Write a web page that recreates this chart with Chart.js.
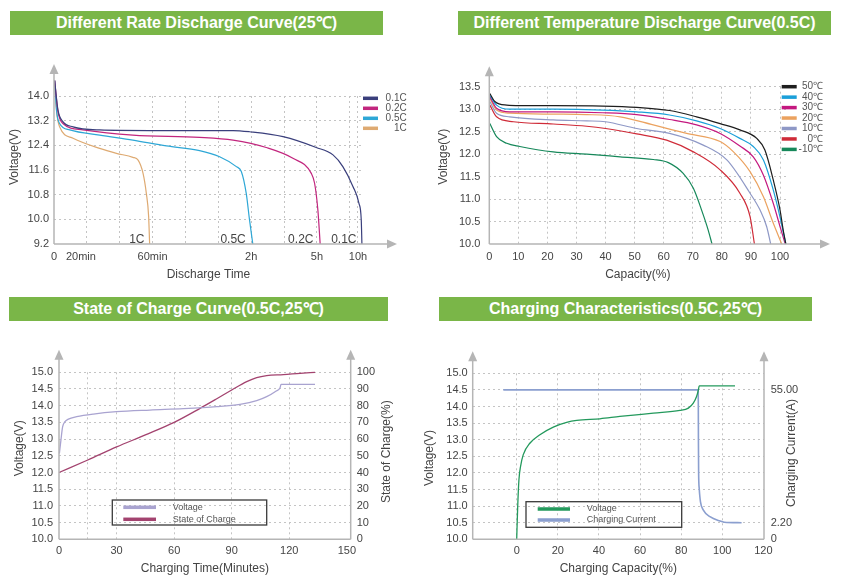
<!DOCTYPE html>
<html>
<head>
<meta charset="utf-8">
<script src="https://cdn.jsdelivr.net/npm/chart.js@4.4.1/dist/chart.umd.min.js"></script>
<style>
body { margin: 0; background: #fff; width: 843px; height: 585px; position: relative; overflow: hidden; font-family: 'Liberation Sans', Arial, sans-serif; }
.banner { position: absolute; height: 24px; line-height: 24px; background: #7ab648; color: #fff; font-weight: bold; font-size: 16px; text-align: center; white-space: nowrap; }
canvas { position: absolute; }
</style>
</head>
<body>
<div class="banner" style="left:10px;top:11px;width:373px">Different Rate Discharge Curve(25℃)</div>
<div class="banner" style="left:458px;top:11px;width:373px">Different Temperature Discharge Curve(0.5C)</div>
<div class="banner" style="left:9px;top:297px;width:379px">State of Charge Curve(0.5C,25℃)</div>
<div class="banner" style="left:439px;top:297px;width:373px">Charging Characteristics(0.5C,25℃)</div>

<canvas id="rateChart" width="420" height="235" style="left:0;top:50px"></canvas>
<canvas id="tempChart" width="423" height="235" style="left:420px;top:50px"></canvas>
<canvas id="socChart" width="420" height="255" style="left:0;top:330px"></canvas>
<canvas id="chargeChart" width="423" height="255" style="left:420px;top:330px"></canvas>

<script>
// --- discharge at different rates (x = position on the uneven time axis) ---
const rateTickPos = [0, 0.82, 3, 6, 8, 9.25];
const rateTickLabels = ['0', '20min', '60min', '2h', '5h', '10h'];
const rateGridPos = [1, 2, 3, 4, 5, 6, 7, 8, 9];
const rateVoltTicks = [9.2, 10.0, 10.8, 11.6, 12.4, 13.2, 14.0];

const rate01X = [0.02, 0.12, 0.27, 0.58, 1.39, 2.91, 5.45, 5.95, 6.97, 7.98, 8.49, 8.79, 9.10, 9.28, 9.35, 9.37];
const rate01V = [14.5, 13.55, 13.17, 13.0, 12.9, 12.88, 12.88, 12.84, 12.68, 12.33, 12.09, 11.71, 11.06, 10.52, 9.98, 9.2];
const rate02X = [0.02, 0.12, 0.27, 0.88, 2.4, 4.43, 5.45, 6.46, 7.27, 7.83, 7.93, 8.03, 8.10];
const rate02V = [14.5, 13.5, 13.11, 12.9, 12.73, 12.66, 12.57, 12.33, 11.98, 11.49, 11.17, 10.3, 9.2];
const rate05X = [0.02, 0.08, 0.17, 0.48, 1.39, 2.4, 3.42, 4.43, 5.04, 5.55, 5.70, 5.85, 5.95, 6.05];
const rate05V = [14.5, 13.5, 13.11, 12.9, 12.73, 12.57, 12.38, 12.23, 12.03, 11.71, 11.55, 10.84, 9.98, 9.2];
const rate1X = [0.02, 0.08, 0.17, 0.58, 1.39, 1.9, 2.4, 2.56, 2.71, 2.81, 2.88, 2.91];
const rate1V = [14.5, 13.5, 13.0, 12.63, 12.3, 12.14, 12.01, 11.92, 11.49, 10.84, 10.09, 9.2];

// --- discharge at different temperatures ---
const tempCapTicks = [0, 10, 20, 30, 40, 50, 60, 70, 80, 90, 100];
const tempVoltTicks = [10.0, 10.5, 11.0, 11.5, 12.0, 12.5, 13.0, 13.5];

const t50X = [0.2, 1.9, 6, 10.5, 22, 39, 50.7, 62, 71.3, 79.4, 86.2, 92, 94.8, 97.7, 100, 101.1, 102];
const t50V = [13.35, 13.17, 13.09, 13.08, 13.08, 13.07, 13.04, 12.97, 12.83, 12.68, 12.54, 12.35, 12.09, 11.42, 10.76, 10.31, 10.0];
const t40X = [0.2, 2.5, 7, 22, 39, 50.7, 62, 71.3, 79.4, 86.2, 90.8, 94.3, 97.7, 100, 102];
const t40V = [13.31, 13.09, 13.0, 13.0, 12.98, 12.94, 12.87, 12.74, 12.57, 12.35, 12.17, 11.87, 11.2, 10.6, 10.0];
const t30X = [0.2, 2.5, 7, 22, 39, 50.7, 62, 71.3, 79.4, 86.2, 90.8, 94.3, 97.7, 100, 101.8];
const t30V = [13.28, 13.02, 12.94, 12.94, 12.92, 12.88, 12.77, 12.65, 12.46, 12.18, 11.94, 11.53, 10.9, 10.39, 10.0];
const t20X = [0.2, 2.5, 7, 22, 33.5, 45, 56.4, 67.9, 79.4, 84, 89.7, 94.3, 97.7, 100.6];
const t20V = [13.24, 12.98, 12.91, 12.89, 12.88, 12.83, 12.65, 12.46, 12.28, 12.05, 11.61, 11.05, 10.46, 10.0];
const t10X = [0.2, 2.5, 7, 22, 33.5, 40, 50.7, 62, 73.6, 81.7, 89.7, 93.1, 95.4, 96.8];
const t10V = [13.17, 12.91, 12.83, 12.76, 12.74, 12.72, 12.57, 12.46, 12.2, 11.87, 11.13, 10.76, 10.39, 10.0];
const t0X = [0.2, 2.5, 8.3, 22, 33.5, 40, 50.7, 61, 70.2, 79.4, 86.2, 89.7, 91.2];
const t0V = [13.09, 12.83, 12.72, 12.67, 12.62, 12.57, 12.45, 12.31, 12.05, 11.65, 11.13, 10.61, 10.0];
const tm10X = [0.2, 2.5, 6, 10.5, 22, 33.5, 45, 56.4, 61.6, 66.7, 70.2, 73, 75.3, 76.6];
const tm10V = [12.68, 12.39, 12.24, 12.17, 12.05, 12.0, 11.94, 11.88, 11.81, 11.57, 11.24, 10.76, 10.31, 10.0];

// --- state of charge curve ---
const socTimeTicks = [0, 15, 30, 60, 90, 120, 150];
const socTimeGrid = [15, 30, 60, 90, 120];
const chargeVoltTicks = [10.0, 10.5, 11.0, 11.5, 12.0, 12.5, 13.0, 13.5, 14.0, 14.5, 15.0];
const socPctTicks = [0, 10, 20, 30, 40, 50, 60, 70, 80, 90, 100];

const socVoltTime = [0.2, 1, 1.9, 3.1, 4.9, 9.2, 17.9, 30, 47.4, 64.8, 82.2, 94.3, 103, 108.2, 112.6, 115.2, 115.7, 133.4];
const socVolt = [12.57, 12.97, 13.37, 13.52, 13.6, 13.67, 13.75, 13.82, 13.87, 13.91, 13.97, 14.04, 14.15, 14.27, 14.42, 14.54, 14.64, 14.64];
const socTime = [0, 15, 30, 45, 60, 73.5, 82, 90, 97.8, 103, 108.2, 116.9, 125.6, 133.4];
const socPct = [40, 47.5, 55.3, 62.5, 70, 78.4, 84, 89.4, 94.4, 96.8, 98, 98.6, 99.4, 100];

// --- charging characteristics ---
const capTicks = [0, 20, 40, 60, 80, 100, 120];
const capGrid = [0, 20, 40, 60, 80, 100];
const currentTickPos = [-4.4, 2.2, 55];
const currentTickLabels = ['0', '2.20', '55.00'];

const chgVoltCap = [0, 0.5, 1.1, 1.9, 3.2, 6.5, 11.3, 17.8, 24.3, 29.2, 40.5, 50.2, 66.5, 79.4, 83.5, 85.9, 87.5, 88.3, 88.8, 106.2];
const chgVolt = [10.0, 11.0, 11.8, 12.2, 12.55, 12.9, 13.15, 13.38, 13.52, 13.58, 13.63, 13.7, 13.8, 13.88, 13.95, 14.1, 14.3, 14.48, 14.62, 14.62];
const chgCurCap = [-6.5, 88.3, 88.35, 88.4, 88.5, 88.8, 89.4, 90.8, 94, 98.9, 101, 109.4];
const chgCur = [55, 55, 48.4, 35.3, 22.2, 15.7, 10.5, 7.2, 4.6, 2.85, 2.4, 2.2];

const FONT = "'Liberation Sans', Arial, sans-serif";
Chart.defaults.font.family = FONT;
Chart.defaults.color = '#444';

function series(label, xs, ys, color, axisId, width) {
    return {
        label: label,
        data: xs.map((x, i) => ({ x: x, y: ys[i] })),
        borderColor: color,
        backgroundColor: color,
        borderWidth: width || 1.2,
        pointRadius: 0,
        cubicInterpolationMode: 'monotone',
        clip: false,
        yAxisID: axisId || 'y'
    };
}

// one axis with fixed size, fixed tick list and optional dotted grid
function axis(o) {
    return {
        type: 'linear',
        position: o.pos,
        min: o.min,
        max: o.max,
        afterFit: s => { if (s.isHorizontal()) s.height = o.size; else s.width = o.size; },
        afterBuildTicks: s => { s.ticks = o.ticks.map(v => ({ value: v })); },
        grid: o.grid ? {
            drawTicks: false,
            lineWidth: 1,
            color: c => o.grid.includes(c.tick.value) ? '#c4c4c4' : 'rgba(0,0,0,0)'
        } : { display: false, drawTicks: false },
        border: { display: false, dash: [2, 3] },
        ticks: {
            padding: o.pad,
            autoSkip: false,
            maxRotation: 0,
            minRotation: 0,
            font: { size: 11 },
            color: '#444',
            callback: o.label
        },
        title: o.title ? {
            display: true,
            text: o.title,
            font: { size: 12 },
            color: '#444',
            padding: { top: 0, bottom: o.titlePad }
        } : { display: false }
    };
}

// axis lines with arrows, vertical titles, in-plot notes and the small legends
const decor = {
    id: 'decor',
    afterDraw(chart, args, o) {
        const ctx = chart.ctx;
        const a = chart.chartArea;
        ctx.save();
        ctx.strokeStyle = '#b5b5b5';
        ctx.fillStyle = '#b5b5b5';
        ctx.lineWidth = 1.5;

        const xEnd = o.xTip || a.right;
        ctx.beginPath();
        ctx.moveTo(a.left, a.bottom);
        ctx.lineTo(xEnd, a.bottom);
        ctx.stroke();
        if (o.xTip) {
            ctx.beginPath();
            ctx.moveTo(xEnd + 2, a.bottom);
            ctx.lineTo(xEnd - 8, a.bottom - 4.5);
            ctx.lineTo(xEnd - 8, a.bottom + 4.5);
            ctx.closePath();
            ctx.fill();
        }
        (o.yTips || []).forEach(t => {
            const x = t.side === 'right' ? a.right : a.left;
            ctx.beginPath();
            ctx.moveTo(x, a.bottom);
            ctx.lineTo(x, t.tip + 6);
            ctx.stroke();
            ctx.beginPath();
            ctx.moveTo(x, t.tip - 2);
            ctx.lineTo(x - 4.5, t.tip + 8);
            ctx.lineTo(x + 4.5, t.tip + 8);
            ctx.closePath();
            ctx.fill();
        });

        ctx.fillStyle = '#444';
        ctx.font = '12px ' + FONT;
        ctx.textAlign = 'center';
        ctx.textBaseline = 'middle';
        (o.titles || []).forEach(t => {
            ctx.save();
            ctx.translate(t.x, t.y);
            ctx.rotate(-Math.PI / 2);
            ctx.fillText(t.text, 0, 0);
            ctx.restore();
        });

        (o.notes || []).forEach(n => {
            ctx.fillText(n.text, chart.scales.x.getPixelForValue(n.x), chart.scales.y.getPixelForValue(n.y));
        });

        const L = o.legend;
        if (L) {
            if (L.box) {
                ctx.strokeStyle = '#3a3a3a';
                ctx.lineWidth = 1.3;
                ctx.strokeRect(L.box[0], L.box[1], L.box[2], L.box[3]);
            }
            ctx.font = L.font + 'px ' + FONT;
            ctx.textAlign = L.align;
            chart.data.datasets.forEach((d, i) => {
                const y = L.y + i * L.step;
                ctx.fillStyle = d.borderColor;
                ctx.fillRect(L.x, y - L.h / 2, L.w, L.h);
                ctx.fillStyle = '#555';
                ctx.fillText(d.label, L.textX, y);
            });
        }
        ctx.restore();
    }
};

function baseOptions(padding, decorOpts, scales) {
    return {
        responsive: false,
        animation: false,
        layout: { padding: padding },
        plugins: { legend: { display: false }, tooltip: { enabled: false }, decor: decorOpts },
        scales: scales
    };
}

new Chart(document.getElementById('rateChart'), {
    type: 'line',
    data: { datasets: [
        series('0.1C', rate01X, rate01V, '#3a3f7c'),
        series('0.2C', rate02X, rate02V, '#c2267e'),
        series('0.5C', rate05X, rate05V, '#2ea7d6'),
        series('1C', rate1X, rate1V, '#deaa72')
    ] },
    options: baseOptions({ left: 0, top: 46, right: 57.1, bottom: 0 }, {
        xTip: 395,
        yTips: [{ side: 'left', tip: 16 }],
        titles: [{ text: 'Voltage(V)', x: 15, y: 107 }],
        notes: [
            { text: '1C', x: 2.52, y: 9.33 },
            { text: '0.5C', x: 5.45, y: 9.33 },
            { text: '0.2C', x: 7.51, y: 9.33 },
            { text: '0.1C', x: 8.82, y: 9.35 }
        ],
        legend: { x: 363, y: 48.3, step: 10, w: 15, h: 3.5, textX: 406.7, align: 'right', font: 10 }
    }, {
        x: axis({ pos: 'bottom', min: 0, max: 9.4, size: 41, pad: 6,
            ticks: rateTickPos.concat(rateGridPos.filter(v => !rateTickPos.includes(v))).sort((p, q) => p - q),
            grid: rateGridPos.concat([9.25]),
            label: v => { const i = rateTickPos.indexOf(v); return i < 0 ? '' : rateTickLabels[i]; },
            title: 'Discharge Time', titlePad: 2.8 }),
        y: axis({ pos: 'left', min: 9.2, max: 14.0, size: 54, pad: 5,
            ticks: rateVoltTicks, grid: rateVoltTicks.slice(1),
            label: v => v.toFixed(1) })
    }),
    plugins: [decor]
});

new Chart(document.getElementById('tempChart'), {
    type: 'line',
    data: { datasets: [
        series('50℃', t50X, t50V, '#1e1e1e'),
        series('40℃', t40X, t40V, '#1b9fd9'),
        series('30℃', t30X, t30V, '#c4187f'),
        series('20℃', t20X, t20V, '#eba25f'),
        series('10℃', t10X, t10V, '#8e98c6'),
        series('0℃', t0X, t0V, '#cf2b38'),
        series('-10℃', tm10X, tm10V, '#16885a')
    ] },
    options: baseOptions({ left: 0, top: 36.7, right: 56.6, bottom: 0 }, {
        xTip: 408,
        yTips: [{ side: 'left', tip: 18.3 }],
        titles: [{ text: 'Voltage(V)', x: 23.3, y: 106.7 }],
        legend: { x: 361.7, y: 36.7, step: 10.45, w: 15, h: 3.5, textX: 403, align: 'right', font: 10 }
    }, {
        x: axis({ pos: 'bottom', min: 0, max: 102.2, size: 41, pad: 6,
            ticks: tempCapTicks, grid: tempCapTicks.slice(1),
            label: v => String(v), title: 'Capacity(%)', titlePad: 3.5 }),
        y: axis({ pos: 'left', min: 10, max: 13.5, size: 69.3, pad: 9,
            ticks: tempVoltTicks, grid: tempVoltTicks.slice(1),
            label: v => v.toFixed(1) })
    }),
    plugins: [decor]
});

new Chart(document.getElementById('socChart'), {
    type: 'line',
    data: { datasets: [
        series('Voltage', socVoltTime, socVolt, '#a9a3d0', 'y', 1.3),
        series('State of Charge', socTime, socPct, '#a3436f', 'y2', 1.3)
    ] },
    options: baseOptions({ left: 0, top: 42.3, right: 0, bottom: 0 }, {
        yTips: [{ side: 'left', tip: 21.7 }, { side: 'right', tip: 21.7 }],
        titles: [
            { text: 'Voltage(V)', x: 20, y: 118.3 },
            { text: 'State of Charge(%)', x: 386.7, y: 121.7 }
        ],
        legend: { box: [112.3, 170, 154.4, 25], x: 123.3, y: 177.3, step: 12, w: 32.7, h: 3.5, textX: 172.7, align: 'left', font: 9 }
    }, {
        x: axis({ pos: 'bottom', min: 0, max: 152, size: 45.7, pad: 5.5,
            ticks: socTimeTicks, grid: socTimeGrid,
            label: v => v === 15 ? '' : String(v), title: 'Charging Time(Minutes)', titlePad: 8.8 }),
        y: axis({ pos: 'left', min: 10, max: 15, size: 59, pad: 6,
            ticks: chargeVoltTicks, grid: chargeVoltTicks.slice(1),
            label: v => v.toFixed(1) }),
        y2: axis({ pos: 'right', min: 0, max: 100, size: 69.3, pad: 6,
            ticks: socPctTicks, label: v => String(v) })
    }),
    plugins: [decor]
});

new Chart(document.getElementById('chargeChart'), {
    type: 'line',
    data: { datasets: [
        series('Voltage', chgVoltCap, chgVolt, '#23995c', 'y', 1.3),
        series('Charging Current', chgCurCap, chgCur, '#8b9fcf', 'y2', 1.6)
    ] },
    options: baseOptions({ left: 0, top: 43.3, right: 0, bottom: 0 }, {
        yTips: [{ side: 'left', tip: 23.3 }, { side: 'right', tip: 23.3 }],
        titles: [
            { text: 'Voltage(V)', x: 10, y: 128 },
            { text: 'Charging Current(A)', x: 371.7, y: 123 }
        ],
        legend: { box: [106, 171.7, 155.7, 25.6], x: 117.7, y: 179, step: 11, w: 32.3, h: 3.5, textX: 166.7, align: 'left', font: 9 }
    }, {
        x: axis({ pos: 'bottom', min: -21.4, max: 120.3, size: 45.7, pad: 5,
            ticks: capTicks, grid: capGrid,
            label: v => String(v), title: 'Charging Capacity(%)', titlePad: 8.8 }),
        y: axis({ pos: 'left', min: 10, max: 15, size: 52.7, pad: 5,
            ticks: chargeVoltTicks, grid: chargeVoltTicks.slice(1),
            label: v => v.toFixed(1) }),
        y2: axis({ pos: 'right', min: -4.4, max: 61.6, size: 79, pad: 6.7,
            ticks: currentTickPos,
            label: v => currentTickLabels[currentTickPos.indexOf(v)] })
    }),
    plugins: [decor]
});
</script>
</body>
</html>
